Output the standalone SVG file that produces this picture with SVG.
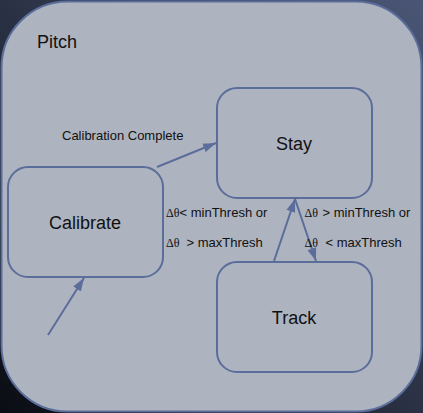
<svg xmlns="http://www.w3.org/2000/svg" width="423" height="413" viewBox="0 0 423 413">
<defs>
<linearGradient id="bg" x1="0" y1="1" x2="1" y2="0">
<stop offset="0" stop-color="#0b0d14"/>
<stop offset="1" stop-color="#4a5675"/>
</linearGradient>
<marker id="ah" markerUnits="userSpaceOnUse" markerWidth="14" markerHeight="10" refX="13" refY="5" orient="auto">
<path d="M0,0.5 L13,5 L0,9.5 z" fill="#5b6d9a"/>
</marker>
<style>
.box{fill:#adb3bf;stroke:#5b6d9a;stroke-width:2}
.st{fill:none;stroke:#5b6d9a;stroke-width:2}
.lbl{font-family:"Liberation Sans",Arial,sans-serif;fill:#111}
.big{font-size:18px;text-anchor:middle}
.sm{font-size:13px}
.gr{font-family:"Liberation Serif","Times New Roman",serif;font-size:12px}
.cn{fill:none;stroke:#5b6d9a;stroke-width:2;marker-end:url(#ah)}
</style>
</defs>
<rect x="0" y="0" width="423" height="413" fill="url(#bg)"/>
<g id="pitch">
<rect class="box" x="1.5" y="1.5" width="420" height="410" rx="66" ry="66"/>
<text class="lbl" x="37" y="48" font-size="18">Pitch</text>
</g>
<g id="stay">
<rect class="box" x="217" y="88" width="155" height="110" rx="20" ry="20"/>
<text class="lbl big" x="294" y="150">Stay</text>
</g>
<g id="calibrate">
<rect class="box" x="8" y="167" width="155" height="110" rx="20" ry="20"/>
<text class="lbl big" x="85" y="229">Calibrate</text>
</g>
<g id="track">
<rect class="box" x="217" y="262" width="155" height="110" rx="20" ry="20"/>
<text class="lbl big" x="294" y="324">Track</text>
</g>
<g id="connectors">
<line class="cn" x1="157" y1="167" x2="216" y2="143"/>
<line class="cn" x1="48" y1="335" x2="84" y2="278"/>
<line class="cn" x1="274" y1="261" x2="295" y2="199"/>
<line class="cn" x1="295" y1="199" x2="316" y2="261"/>
</g>
<g id="labels">
<text class="lbl sm" x="62" y="140">Calibration Complete</text>
<text class="lbl sm" y="217"><tspan class="gr" x="166">Δθ</tspan><tspan x="179.5">&lt; minThresh or</tspan></text>
<text class="lbl sm" y="247"><tspan class="gr" x="166">Δθ</tspan><tspan x="186.5">&gt; maxThresh</tspan></text>
<text class="lbl sm" y="217"><tspan class="gr" x="304.5">Δθ</tspan><tspan x="322.5">&gt; minThresh or</tspan></text>
<text class="lbl sm" y="247"><tspan class="gr" x="304.5">Δθ</tspan><tspan x="325.5">&lt; maxThresh</tspan></text>
</g>
</svg>
